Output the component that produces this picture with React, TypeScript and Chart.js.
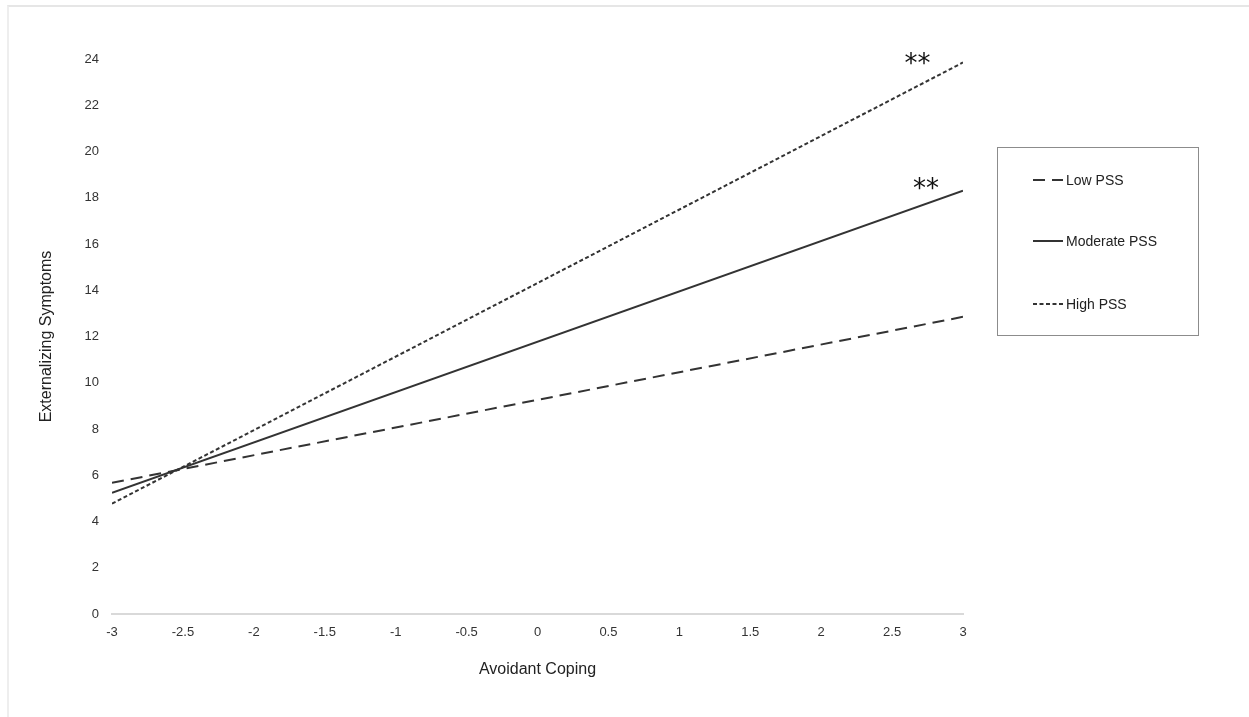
import React, { useEffect, useRef } from "react";
import { Chart, registerables } from "chart.js";

Chart.register(...registerables);

// ---- data ----
const xValues: number[] = [-3, 3];
const lowPSS: number[] = [5.67, 12.85];
const moderatePSS: number[] = [5.24, 18.3];
const highPSS: number[] = [4.77, 23.85];
const seriesLabels: string[] = ["Low PSS", "Moderate PSS", "High PSS"];
const seriesDashes: number[][] = [[12, 7], [], [4, 2.5]];
// significance markers (data coordinates)
const sigText: string[] = ["**", "**"];
const sigX: number[] = [2.68, 2.74];
const sigY: number[] = [24.15, 18.72];
const xTitle = "Avoidant Coping";
const yTitle = "Externalizing Symptoms";

const LINE_COLOR = "#333333";
const FONT = "'Liberation Sans', Arial, Helvetica, sans-serif";

const toPoints = (ys: number[]) => xValues.map((x, i) => ({ x, y: ys[i] }));

const overlayPlugin = {
  id: "overlay",
  afterDraw(chart: any) {
    const ctx = chart.ctx as CanvasRenderingContext2D;
    const xs = chart.scales.x;
    const ys = chart.scales.y;
    const area = chart.chartArea;
    ctx.save();
    // axis titles
    ctx.fillStyle = "#222";
    ctx.font = `16px ${FONT}`;
    ctx.textAlign = "center";
    ctx.textBaseline = "middle";
    ctx.fillText(xTitle, (area.left + area.right) / 2, 670);
    ctx.save();
    ctx.translate(47, (area.top + area.bottom) / 2);
    ctx.rotate(-Math.PI / 2);
    ctx.fillText(yTitle, 0, 0);
    ctx.restore();

    // significance stars
    ctx.fillStyle = "#111";
    ctx.font = `26px 'DejaVu Sans', sans-serif`;
    ctx.textBaseline = "alphabetic";
    sigText.forEach((t, i) => {
      ctx.fillText(t, xs.getPixelForValue(sigX[i]), ys.getPixelForValue(sigY[i]) + 16);
    });

    // legend box
    const bx = 997, by = 147, bw = 201, bh = 188;
    ctx.strokeStyle = "#8c8c8c";
    ctx.lineWidth = 1;
    ctx.strokeRect(bx + 0.5, by + 0.5, bw, bh);
    const rows = [180, 241, 304];
    ctx.font = `14px ${FONT}`;
    ctx.textAlign = "left";
    ctx.textBaseline = "middle";
    chart.data.datasets.forEach((ds: any, i: number) => {
      const y = rows[i];
      ctx.beginPath();
      ctx.strokeStyle = LINE_COLOR;
      ctx.lineWidth = 2;
      ctx.setLineDash(ds.borderDash || []);
      ctx.moveTo(1033, y);
      ctx.lineTo(1063, y);
      ctx.stroke();
      ctx.setLineDash([]);
      ctx.fillStyle = "#222";
      ctx.fillText(ds.label, 1066, y + 1);
    });
    ctx.restore();
  },
};

export default function App() {
  const ref = useRef<HTMLCanvasElement | null>(null);

  useEffect(() => {
    if (!ref.current) return;
    const data = [lowPSS, moderatePSS, highPSS];
    const chart = new Chart(ref.current, {
      type: "line",
      data: {
        datasets: data.map((ys, i) => ({
          label: seriesLabels[i],
          data: toPoints(ys),
          borderColor: LINE_COLOR,
          backgroundColor: LINE_COLOR,
          borderWidth: 2,
          borderDash: seriesDashes[i],
          pointRadius: 0,
          pointHoverRadius: 0,
          fill: false,
          tension: 0,
        })),
      },
      options: {
        animation: false,
        responsive: false,
        maintainAspectRatio: false,
        events: [],
        layout: { padding: { left: 0, right: 286, top: 59, bottom: 0 } },
        plugins: {
          legend: { display: false },
          tooltip: { enabled: false },
          title: { display: false },
        },
        scales: {
          x: {
            type: "linear",
            min: -3,
            max: 3,
            ticks: {
              stepSize: 0.5,
              padding: 11,
              color: "#333",
              font: { family: FONT, size: 13 },
              callback: (v: any) => String(Math.round(Number(v) * 10) / 10),
            },
            grid: { display: false, drawTicks: false },
            border: { display: true, color: "#d9d9d9", width: 2 },
            afterFit: (s: any) => {
              s.height = 103;
            },
          },
          y: {
            min: 0,
            max: 24,
            ticks: {
              stepSize: 2,
              padding: 13,
              color: "#333",
              font: { family: FONT, size: 13 },
            },
            grid: { display: false, drawTicks: false },
            border: { display: false },
            afterFit: (s: any) => {
              s.width = 112;
            },
          },
        },
      } as any,
      plugins: [overlayPlugin],
    });
    return () => chart.destroy();
  }, []);

  return (
    <div
      style={{
        position: "absolute",
        left: 0,
        top: 0,
        width: 1249,
        height: 717,
        background: "#fff",
      }}
    >
      <div
        style={{
          position: "absolute",
          left: 7,
          top: 5,
          right: 0,
          bottom: 0,
          borderTop: "2px solid #e6e6e6",
          borderLeft: "2px solid #eeeeee",
        }}
      />
      <canvas
        ref={ref}
        width={1249}
        height={717}
        style={{ position: "absolute", left: 0, top: 0, width: 1249, height: 717 }}
      />
    </div>
  );
}
